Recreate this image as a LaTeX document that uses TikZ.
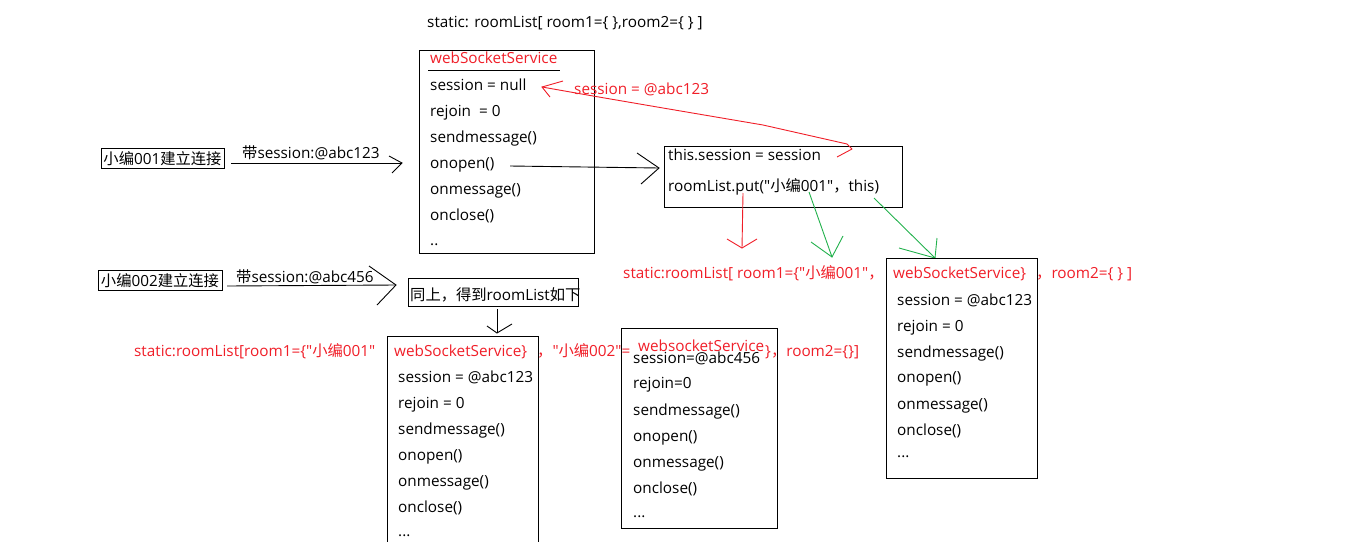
\documentclass[tikz,border=0pt]{standalone}
\usepackage{fontspec}
\setmainfont{Open Sans}[Ligatures=TeXOff]
\newfontfamily\cjk{Noto Sans CJK SC}[Ligatures=TeXOff]
\definecolor{pred}{RGB}{240,30,40}
\definecolor{pgreen}{RGB}{34,177,76}
\newcommand{\zh}[1]{{\cjk #1}}
\begin{document}
\begin{tikzpicture}[x=1pt,y=-1pt,
  t/.style={anchor=base west,inner sep=0pt,font=\fontsize{15.3}{17}\selectfont},
  rt/.style={t,text=pred},
  box/.style={draw,line width=1pt,inner sep=0pt,anchor=north west},
  tagbox/.style={draw,line width=1pt,inner sep=0pt,font=\fontsize{15.3}{17}\selectfont,minimum height=20pt},
  ln/.style={line width=0.9pt},
  rl/.style={ln,draw=pred},
  gl/.style={ln,draw=pgreen}]
\useasboundingbox (0,0) rectangle (1356,541);

% top line
\node[t] (top) at (427,27) {static: roomList[ room1=\{ \},room2=\{ \} ]};

% main webSocketService box
\node[box,minimum width=175pt,minimum height=203pt] (ws1) at (419,50) {};
\node[rt] (w1t) at (430,63) {webSocketService};
\draw[ln] (428,70) -- (560,70);
\node[t] (w1a) at (430,90) {session = null};
\node[t] (w1b) at (430,116) {rejoin \ = 0};
\node[t] (w1c) at (430,142) {sendmessage()};
\node[t] (w1d) at (430,168) {onopen()};
\node[t] (w1e) at (430,194) {onmessage()};
\node[t] (w1f) at (430,220) {onclose()};
\node[t] (w1g) at (430,245) {..};

% client 001
\node[tagbox,minimum width=123pt] (c1) at (162.5,158.5) {\zh{小编}001\zh{建立连接}};
\node[t] (c1l) at (242,158) {\zh{带}session:@abc123};
\coordinate (a1s) at (231,163);
\coordinate (a1t) at (402,163);
\draw[ln] (a1s) -- (a1t);
\draw[ln] (a1t) ++(-13,-7) -- (a1t) -- ++(-10,10);

% onopen -> box
\node[box,minimum width=238pt,minimum height=61pt] (op) at (664,146) {};
\node[t] (opa) at (668,160) {this.session = session};
\node[t] (opb) at (668,191) {roomList.put("\zh{小编}001"\zh{，}this)};
\coordinate (a2s) at (510,166);
\coordinate (a2t) at (659,168);
\draw[ln] (a2s) -- (a2t);
\draw[ln] (a2t) ++(-22,-15) -- (a2t) -- ++(-18,16);

% red session arrow
\node[rt] (sess) at (574,94) {session = @abc123};
\coordinate (rs) at (837,157);
\coordinate (rtip) at (542,87);
\draw[rl,line join=round] (rs) -- (852,149) -- (847,144) -- (763,125) -- (663,108) -- (593,96) -- (rtip);
\draw[rl] (rtip) ++(21,-6) -- (rtip) -- ++(8,10);

% down arrows from roomList.put
\coordinate (rds) at (743,193);
\coordinate (rdt) at (742,248);
\draw[rl] (rds) -- (rdt);
\draw[rl] (rdt) ++(-15,-9) -- (rdt) -- ++(15,-9);
\coordinate (g1s) at (809,192);
\coordinate (g1t) at (832,257);
\draw[gl] (g1s) -- (g1t);
\draw[gl] (g1t) ++(-21,-15) -- (g1t) -- ++(11,-21);
\coordinate (g2s) at (874,198);
\coordinate (g2t) at (935,258);
\draw[gl] (g2s) -- (g2t);
\draw[gl] (g2t) ++(-36,-10) -- (g2t) -- ++(2,-20);

% row 1
\node[rt] (r1a) at (623,278) {static:roomList[ room1=\{"\zh{小编}001"\zh{，}};
\node[box,minimum width=151pt,minimum height=220pt] (ws3) at (886,258) {};
\node[rt] (w3t) at (893,278) {webSocketService\}};
\node[rt] (r1b) at (1036,278) {\zh{，}room2=\{ \} ]};
\node[t] (w3a) at (897,305) {session = @abc123};
\node[t] (w3b) at (897,331) {rejoin = 0};
\node[t] (w3c) at (897,357) {sendmessage()};
\node[t] (w3d) at (897,382) {onopen()};
\node[t] (w3e) at (897,409) {onmessage()};
\node[t] (w3f) at (897,435) {onclose()};
\node[t] (w3g) at (897,457) {...};

% client 002
\node[tagbox,minimum width=124pt] (c2) at (160,280.5) {\zh{小编}002\zh{建立连接}};
\node[t] (c2l) at (236,282) {\zh{带}session:@abc456};
\coordinate (a3s) at (227,286);
\coordinate (a3t) at (396,285);
\draw[ln] (a3s) -- (a3t);
\draw[ln] (a3t) ++(-27,-19) -- (a3t) -- ++(-19,20);
\node[box,minimum width=170pt,minimum height=28pt] (same) at (408,278) {};
\node[t] (samet) at (410,300) {\zh{同上，得到}roomList\zh{如下}};
\coordinate (a4s) at (497,309);
\coordinate (a4t) at (497,333);
\draw[ln] (a4s) -- (a4t);
\draw[ln] (a4t) ++(-10,-7) -- (a4t) -- ++(15,-9);

% row 2
\node[rt] (r2a) at (134,356) {static:roomList[room1=\{"\zh{小编}001"};
\node[box,minimum width=151pt,minimum height=212pt] (ws2) at (387,336) {};
\node[rt] (w2t) at (394,356) {webSocketService\}};
\node[t] (w2a) at (398,382) {session = @abc123};
\node[t] (w2b) at (398,408) {rejoin = 0};
\node[t] (w2c) at (398,434) {sendmessage()};
\node[t] (w2d) at (398,460) {onopen()};
\node[t] (w2e) at (398,486) {onmessage()};
\node[t] (w2f) at (398,512) {onclose()};
\node[t] (w2g) at (398,536) {...};
\node[rt] (r2b) at (537,356) {\zh{，}"\zh{小编}002"=};
\node[box,minimum width=156pt,minimum height=200pt] (ws4) at (621,328) {};
\node[rt] (w4t) at (638,351) {websocketService};
\node[rt] (r2c) at (765,356) {\}\zh{，}room2=\{\}]};
\node[t] (w4a) at (633,363) {session=@abc456};
\node[t] (w4b) at (633,388) {rejoin=0};
\node[t] (w4c) at (633,415) {sendmessage()};
\node[t] (w4d) at (633,441) {onopen()};
\node[t] (w4e) at (633,467) {onmessage()};
\node[t] (w4f) at (633,493) {onclose()};
\node[t] (w4g) at (633,517) {...};
\end{tikzpicture}
\end{document}
